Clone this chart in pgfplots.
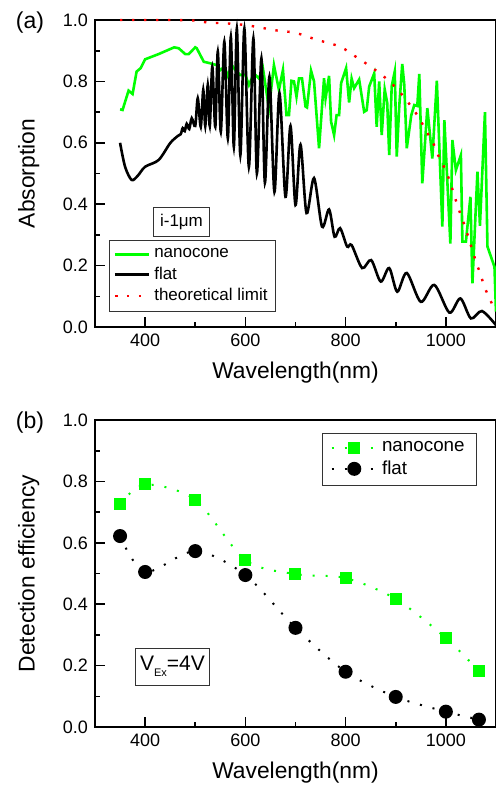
\documentclass[border=0pt]{standalone}
\usepackage{fontspec}
\setmainfont{Liberation Sans}
\usepackage{pgfplots}
\pgfplotsset{compat=1.18}

\definecolor{ngreen}{RGB}{0,255,0}
\definecolor{nred}{RGB}{255,0,0}

\pgfplotsset{
  panel/.style={
    scale only axis, width=200.5pt, height=153.5pt,
    xmin=300, xmax=1100, ymin=0, ymax=1,
    xtick={400,600,800,1000}, minor x tick num=1,
    ytick={0,0.2,0.4,0.6,0.8,1.0}, minor y tick num=1,
    tick align=inside, tick pos=left,
    major tick length=5pt, minor tick length=2.5pt,
    axis line style={line width=1pt},
    every tick/.style={line width=0.8pt, black},
    tick label style={font=\fontsize{9}{10}\selectfont},
    /pgf/number format/assume math mode=true,
    /pgf/number format/1000 sep={},
    yticklabel style={/pgf/number format/fixed, /pgf/number format/fixed zerofill,
      /pgf/number format/precision=1},
    label style={font=\fontsize{11.4}{13}\selectfont},
    xlabel={Wavelength(nm)},
    xlabel style={at={(axis description cs:0.5,-0.147)}, anchor=center},
    ylabel style={at={(axis description cs:-0.165,0.5)}, anchor=center},
    legend cell align=left,
    clip=false,
  }
}

\begin{document}
\begin{tikzpicture}
\useasboundingbox (0,0) rectangle (248pt,-393pt);

% (a) absorption
\begin{axis}[panel, at={(47.5pt,-163.5pt)}, anchor=south west,
  ylabel={Absorption},
  legend style={at={(axis description cs:0.035,0.049)}, anchor=south west,
    font=\fontsize{8.5}{9}\selectfont, draw=black!80, line width=0.5pt,
    row sep=-1pt, inner sep=2pt}]
\addplot[ngreen, line width=1.3pt] coordinates {
(350,0.709) (355,0.707) (367,0.770) (375,0.759) (383,0.832) (391,0.843)
(400,0.872) (427,0.889) (458,0.911) (467,0.908) (480,0.889) (487,0.889)
(500,0.911) (503,0.908) (517,0.864) (530,0.859) (543,0.853) (550,0.837)
(558,0.848) (565,0.818) (573,0.853) (580,0.837) (590,0.821) (600,0.821)
(607,0.788) (617,0.826) (627,0.810) (635,0.843) (647,0.712) (657,0.853)
(667,0.772) (675,0.837) (682,0.690) (687,0.690) (692,0.802) (697,0.800)
(702,0.750) (707,0.810) (713,0.810) (720,0.718) (723,0.715) (731,0.835)
(737,0.800) (747,0.582) (757,0.810) (760,0.745) (767,0.818) (771,0.669)
(777,0.625) (782,0.690) (787,0.690) (791,0.794) (801,0.843) (807,0.731)
(812,0.809) (817,0.778) (827,0.806) (837,0.701) (842,0.706) (847,0.783)
(857,0.826) (862,0.652) (867,0.800) (872,0.625) (878,0.774) (883,0.730)
(887,0.560) (892,0.785) (898,0.832) (902,0.555) (907,0.718) (913,0.857)
(917,0.790) (922,0.582) (931,0.690) (937,0.723) (943,0.720) (947,0.824)
(953,0.468) (963,0.713) (973,0.549) (982,0.802) (993,0.327) (997,0.674)
(1009,0.272) (1013,0.609) (1020,0.511) (1030,0.560) (1033,0.278) (1040,0.278)
(1049,0.424) (1053,0.142) (1063,0.506) (1068,0.330) (1078,0.700) (1083,0.262)
(1097,0.196) (1100,0.050)
};
\addlegendentry{nanocone}
\addplot[black, line width=1.3pt, smooth] coordinates {
(350,0.600) (360,0.522) (373,0.479) (385,0.492) (400,0.522) (427,0.544)
(450,0.599) (465,0.622) (471,0.628) (475,0.648) (479,0.638) (483,0.662)
(488,0.645) (493,0.680) (500,0.655) (505,0.745) (511,0.652) (516,0.772)
(520,0.655) (525,0.788) (529,0.655) (534,0.848) (540,0.652) (545,0.897)
(551,0.636) (558,0.929) (565,0.615) (571,0.945) (577,0.587) (583,0.972)
(590,0.560) (598,0.972) (607,0.522) (616,0.940) (623,0.500) (632,0.875)
(639,0.470) (648,0.815) (658,0.440) (668,0.762) (680,0.424) (690,0.655)
(700,0.397) (710,0.594) (722,0.371) (737,0.485) (753,0.327) (767,0.383)
(778,0.294) (789,0.322) (803,0.262) (812,0.267) (833,0.192) (851,0.218)
(870,0.148) (887,0.192) (903,0.115) (922,0.176) (950,0.082) (977,0.137)
(1007,0.047) (1029,0.093) (1050,0.028) (1072,0.052) (1100,0.006)
};
\addlegendentry{flat}
\addplot[nred, line width=1.2pt, dash pattern=on 1.2pt off 4.8pt, smooth] coordinates {
(350,1.0) (400,1.0) (450,1.0) (500,0.998) (523,0.992) (547,0.990)
(571,0.988) (597,0.984) (621,0.978) (645,0.971) (670,0.964) (695,0.960)
(719,0.949) (743,0.935) (769,0.924) (793,0.910) (818,0.883) (842,0.857)
(865,0.830) (889,0.798) (912,0.758) (931,0.718) (947,0.680) (961,0.638)
(975,0.598) (985,0.558) (997,0.519) (1007,0.479) (1015,0.438) (1023,0.397)
(1031,0.359) (1040,0.319) (1047,0.280) (1053,0.251) (1060,0.213) (1069,0.172)
(1077,0.131) (1087,0.093) (1099,0.052)
};
\addlegendentry{theoretical limit}
\node[draw=black!80, line width=0.5pt, inner xsep=3.5pt, minimum height=13pt,
  font=\fontsize{8.5}{9}\selectfont] at (axis description cs:0.2157,0.342) {i-1μm};
\end{axis}

% (b) detection efficiency
\begin{axis}[panel, at={(47.5pt,-363.5pt)}, anchor=south west,
  ylabel={Detection efficiency},
  legend image code/.code={\draw[mark repeat=2, mark phase=2, #1]
    plot coordinates {(0cm,0cm) (0.4cm,0cm) (0.8cm,0cm)};},
  legend style={at={(axis description cs:0.953,0.958)}, anchor=north east,
    font=\fontsize{9.4}{10}\selectfont, draw=black!80, line width=0.5pt,
    row sep=-1pt, inner xsep=4pt, inner ysep=2pt}]
\addplot[ngreen, line width=1pt, dash pattern=on 1pt off 5.5pt, smooth,
  mark=square*, mark size=2.5pt, mark options={solid, fill=ngreen, draw=ngreen}]
  coordinates {
(350,0.726) (400,0.790) (500,0.740) (600,0.544) (700,0.498) (800,0.485)
(900,0.417) (1000,0.290) (1066,0.182)
};
\addlegendentry{nanocone}
\addplot[black, line width=1pt, dash pattern=on 1pt off 5.5pt, smooth,
  mark=*, mark size=3pt, mark options={solid, fill=black}]
  coordinates {
(350,0.622) (400,0.505) (500,0.573) (600,0.495) (700,0.323) (800,0.180)
(900,0.098) (1000,0.050) (1066,0.024)
};
\addlegendentry{flat}
\node[draw=black!80, line width=0.5pt, inner xsep=2.2pt, minimum height=18.5pt,
  font=\fontsize{10.5}{11}\selectfont] at (axis description cs:0.1933,0.197)
  {V\raisebox{-3pt}{\fontsize{5.5}{6}\selectfont Ex}=4V};
\end{axis}

\node[font=\fontsize{11.5}{13}\selectfont] at (15pt,-11.25pt) {(a)};
\node[font=\fontsize{11.5}{13}\selectfont] at (15pt,-211.25pt) {(b)};
\end{tikzpicture}
\end{document}
